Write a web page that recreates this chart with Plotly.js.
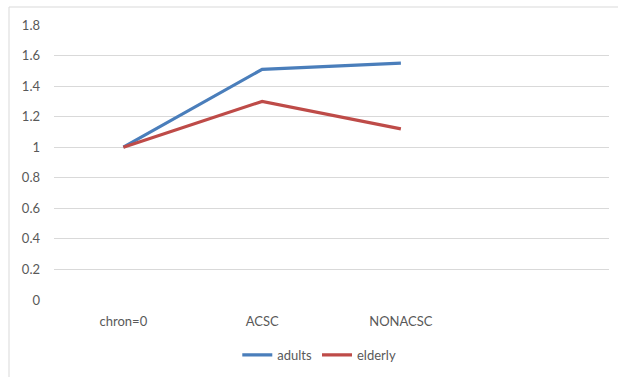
<!DOCTYPE html>
<html>
<head>
<meta charset="utf-8">
<script src="https://cdn.plot.ly/plotly-3.0.1.min.js"></script>
<style>
  html, body { margin: 0; padding: 0; background: #fff; }
  #chart { width: 618px; height: 377px; }
</style>
</head>
<body>
<div id="chart"></div>
<script>
// Category labels along the x axis (a fourth, empty slot sits at the right)
const categories = ['chron=0', 'ACSC', 'NONACSC'];
const adults = [1, 1.51, 1.55];
const elderly = [1, 1.30, 1.12];
const yTicks = [0, 0.2, 0.4, 0.6, 0.8, 1, 1.2, 1.4, 1.6, 1.8];

const positions = categories.map((_, i) => i);
const textFont = { family: 'Lato, "Noto Sans", sans-serif', size: 13, color: '#595959' };

const traces = [
  {
    x: positions, y: adults, name: 'adults', type: 'scatter', mode: 'lines',
    line: { color: '#4a7ebb', width: 3.2 }
  },
  {
    x: positions, y: elderly, name: 'elderly', type: 'scatter', mode: 'lines',
    line: { color: '#be4b48', width: 3.2 }
  }
];

const layout = {
  width: 618, height: 377,
  margin: { l: 54, r: 9, t: 25, b: 77, autoexpand: false },
  paper_bgcolor: '#ffffff', plot_bgcolor: '#ffffff',
  font: textFont,
  showlegend: true,
  legend: {
    orientation: 'h', x: 0.478, xanchor: 'center', y: -0.145, yanchor: 'top',
    font: textFont, itemwidth: 30, tracegroupgap: 0
  },
  xaxis: {
    range: [-0.5, 3.5],
    tickvals: positions, ticktext: categories,
    showgrid: false, zeroline: false, showline: false, automargin: false,
    ticks: '', ticklabelstandoff: 12, fixedrange: true
  },
  yaxis: {
    range: [0, 1.8],
    tickvals: yTicks,
    showgrid: true, gridcolor: '#d9d9d9', gridwidth: 1,
    zeroline: false, showline: false, automargin: false,
    ticks: '', ticklabelstandoff: 13, fixedrange: true
  },
  shapes: [
    {
      type: 'rect', xref: 'paper', yref: 'paper',
      x0: -45 / 555, x1: 1.1, y0: -0.4, y1: 1 + 18 / 275,
      line: { color: '#d9d9d9', width: 1 }, fillcolor: 'rgba(0,0,0,0)'
    }
  ]
};

Plotly.newPlot('chart', traces, layout, { displayModeBar: false, staticPlot: true });
</script>
</body>
</html>
